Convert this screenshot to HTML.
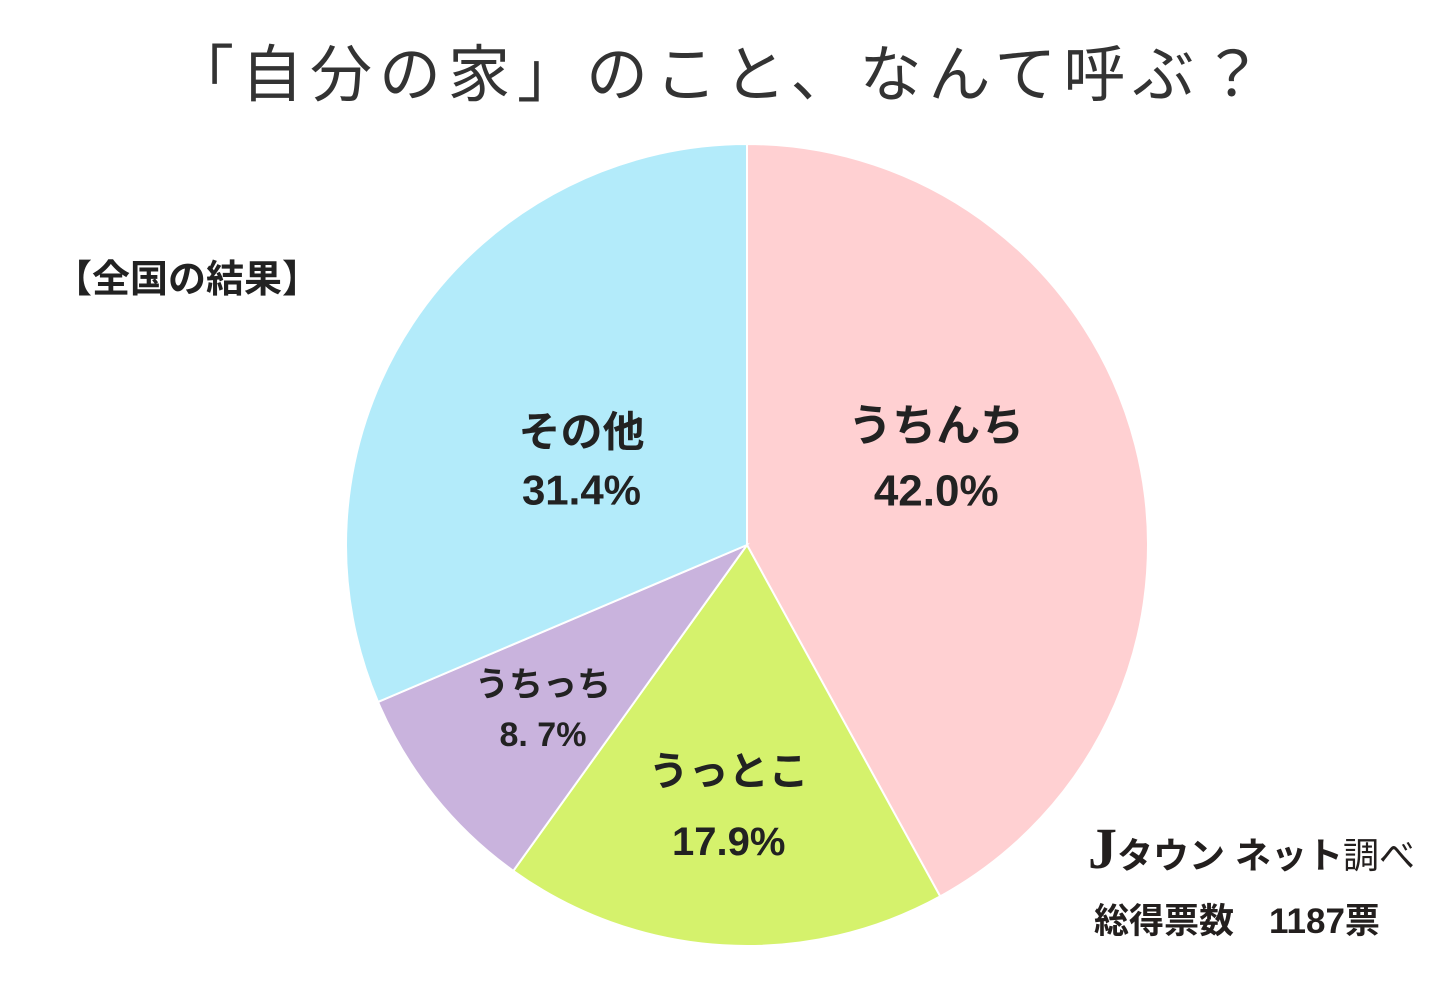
<!DOCTYPE html>
<html><head><meta charset="utf-8">
<style>
html,body{margin:0;padding:0;background:#fff;}
body{width:1440px;height:983px;position:relative;overflow:hidden;font-family:"Liberation Sans","Noto Sans CJK JP",sans-serif;}
.t{position:absolute;white-space:nowrap;color:#222;}
</style></head>
<body>
<div class="t" style="left:172px;top:24px;font-size:62px;color:#333;letter-spacing:7px;">「自分の家」のこと、なんて呼ぶ？</div>
<div class="t" style="left:54px;top:248px;font-size:38px;font-weight:bold;">【全国の結果】</div>
<svg id="pie" width="1440" height="983" style="position:absolute;left:0;top:0"></svg>
<div class="t" style="left:1088px;top:815px;font-size:36px;font-weight:bold;color:#231f1e;"><span style="font-size:58px;font-family:'Liberation Serif',serif;">J</span>タウン ネット<span style="font-weight:normal">調べ</span></div>
<div class="t" style="left:1094px;top:893px;font-size:35px;font-weight:bold;color:#231f1e;">総得票数　1187票</div>
<script>
const categories=["うちんち","うっとこ","うちっち","その他"];
const values=[42.0,17.9,8.7,31.4];
const valueLabels=["42.0%","17.9%","8. 7%","31.4%"];
const colors=["#FFD0D2","#D5F26C","#C9B3DD","#B3EBFA"];
const labelR=[0.5,0.64,0.62,0.45];
const labelDx=[-5,-3,-10,-15];
const labelDy=[-50,-12,-1,5];
const lineGap=[65,70,50,58];
const fontSizes=[44,40,34,42];
const cx=747,cy=545,R=401;
const svg=document.getElementById('pie');
const NS="http://www.w3.org/2000/svg";
const total=values.reduce((a,b)=>a+b,0);
function pt(a,r){return [cx+r*Math.sin(a),cy-r*Math.cos(a)];}
let acc=0;
values.forEach((v,i)=>{
  const a0=acc/total*2*Math.PI;acc+=v;const a1=acc/total*2*Math.PI;
  const p0=pt(a0,R),p1=pt(a1,R);
  const large=(a1-a0)>Math.PI?1:0;
  const path=document.createElementNS(NS,'path');
  path.setAttribute('d',`M${cx},${cy}L${p0[0]},${p0[1]}A${R},${R} 0 ${large} 1 ${p1[0]},${p1[1]}Z`);
  path.setAttribute('fill',colors[i]);path.setAttribute('stroke','#fff');path.setAttribute('stroke-width','2');
  
  
  svg.appendChild(path);
  const m=(a0+a1)/2;const c=pt(m,R*labelR[i]);
  const x=c[0]+labelDx[i],y=c[1]+labelDy[i];
  const fs=fontSizes[i];
  [categories[i],valueLabels[i]].forEach((s,j)=>{
    const t=document.createElementNS(NS,'text');
    t.setAttribute('x',x);t.setAttribute('y',y+(j===0?-fs*0.1:lineGap[i]-fs*0.1));
    t.setAttribute('text-anchor','middle');t.setAttribute('font-size',fs);t.setAttribute('font-weight','bold');
    t.setAttribute('fill','#222');
    t.setAttribute('font-family','"Liberation Sans","Noto Sans CJK JP",sans-serif');
    t.textContent=s;
    
    
    svg.appendChild(t);
  });
});
</script>
</body></html>
